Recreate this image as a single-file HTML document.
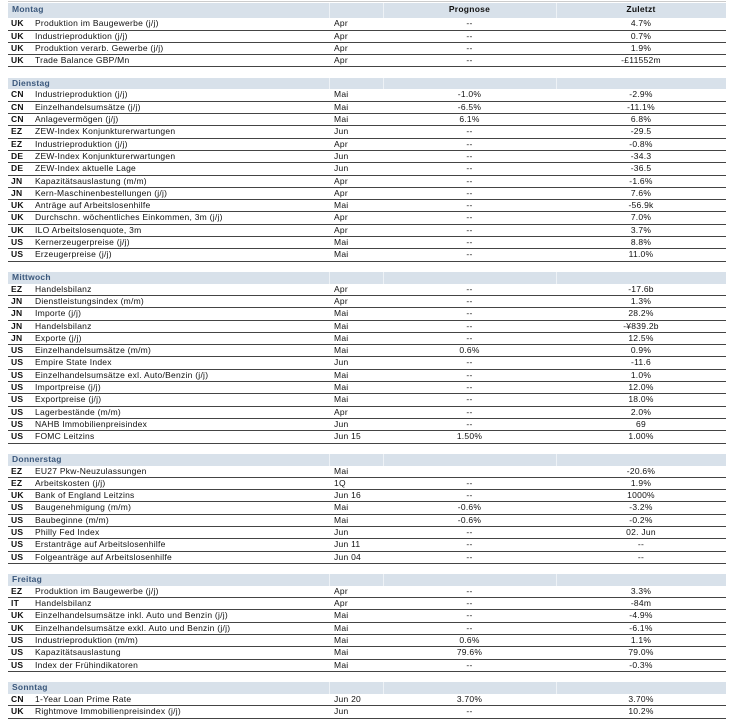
<!DOCTYPE html>
<html><head><meta charset="utf-8"><style>
*{margin:0;padding:0;box-sizing:border-box}
body{width:732px;height:718px;background:#fff;font-family:"Liberation Sans",sans-serif;font-size:8.5px;letter-spacing:0.25px;color:#111;position:relative;overflow:hidden}
#t{position:absolute;left:8px;top:3px;width:718px}
.top{position:absolute;left:8px;top:1px;width:718px;height:1px;background:#ccc}
.h{height:11.5px;background:#d8e1ea;position:relative;color:#3b587c;font-weight:bold;line-height:11.5px}
.h0{height:15.3px;line-height:12px}
.g{height:10.5px}
.r{height:12.3px;border-bottom:1px solid #444;position:relative;line-height:11.5px;white-space:nowrap}
.c{position:absolute;left:3px;font-weight:bold}
.d{position:absolute;left:27px}
.p{position:absolute;left:326px}
.f{position:absolute;left:375px;width:173px;text-align:center}
.z{position:absolute;left:548px;width:170px;text-align:center}
.h span{position:absolute}
.vl{position:absolute;top:0;bottom:0;width:1px;background:#eef2f6}
</style></head><body>
<div class="top"></div>
<div id="t">
<div class="h h0"><span style="left:4px">Montag</span><div class="vl" style="left:321px"></div><div class="vl" style="left:375px"></div><div class="vl" style="left:548px"></div><span class="f" style="text-align:center;color:#111">Prognose</span><span class="z" style="color:#111">Zuletzt</span></div>
<div class="r"><span class="c">UK</span><span class="d">Produktion im Baugewerbe (j/j)</span><span class="p">Apr</span><span class="f">--</span><span class="z">4.7%</span></div>
<div class="r"><span class="c">UK</span><span class="d">Industrieproduktion (j/j)</span><span class="p">Apr</span><span class="f">--</span><span class="z">0.7%</span></div>
<div class="r"><span class="c">UK</span><span class="d">Produktion verarb. Gewerbe (j/j)</span><span class="p">Apr</span><span class="f">--</span><span class="z">1.9%</span></div>
<div class="r"><span class="c">UK</span><span class="d">Trade Balance GBP/Mn</span><span class="p">Apr</span><span class="f">--</span><span class="z">-£11552m</span></div>
<div class="g"></div>
<div class="h"><span style="left:4px">Dienstag</span><div class="vl" style="left:321px"></div><div class="vl" style="left:375px"></div><div class="vl" style="left:548px"></div></div>
<div class="r"><span class="c">CN</span><span class="d">Industrieproduktion (j/j)</span><span class="p">Mai</span><span class="f">-1.0%</span><span class="z">-2.9%</span></div>
<div class="r"><span class="c">CN</span><span class="d">Einzelhandelsumsätze (j/j)</span><span class="p">Mai</span><span class="f">-6.5%</span><span class="z">-11.1%</span></div>
<div class="r"><span class="c">CN</span><span class="d">Anlagevermögen (j/j)</span><span class="p">Mai</span><span class="f">6.1%</span><span class="z">6.8%</span></div>
<div class="r"><span class="c">EZ</span><span class="d">ZEW-Index Konjunkturerwartungen</span><span class="p">Jun</span><span class="f">--</span><span class="z">-29.5</span></div>
<div class="r"><span class="c">EZ</span><span class="d">Industrieproduktion (j/j)</span><span class="p">Apr</span><span class="f">--</span><span class="z">-0.8%</span></div>
<div class="r"><span class="c">DE</span><span class="d">ZEW-Index Konjunkturerwartungen</span><span class="p">Jun</span><span class="f">--</span><span class="z">-34.3</span></div>
<div class="r"><span class="c">DE</span><span class="d">ZEW-Index aktuelle Lage</span><span class="p">Jun</span><span class="f">--</span><span class="z">-36.5</span></div>
<div class="r"><span class="c">JN</span><span class="d">Kapazitätsauslastung (m/m)</span><span class="p">Apr</span><span class="f">--</span><span class="z">-1.6%</span></div>
<div class="r"><span class="c">JN</span><span class="d">Kern-Maschinenbestellungen (j/j)</span><span class="p">Apr</span><span class="f">--</span><span class="z">7.6%</span></div>
<div class="r"><span class="c">UK</span><span class="d">Anträge auf Arbeitslosenhilfe</span><span class="p">Mai</span><span class="f">--</span><span class="z">-56.9k</span></div>
<div class="r"><span class="c">UK</span><span class="d">Durchschn. wöchentliches Einkommen, 3m (j/j)</span><span class="p">Apr</span><span class="f">--</span><span class="z">7.0%</span></div>
<div class="r"><span class="c">UK</span><span class="d">ILO Arbeitslosenquote, 3m</span><span class="p">Apr</span><span class="f">--</span><span class="z">3.7%</span></div>
<div class="r"><span class="c">US</span><span class="d">Kernerzeugerpreise (j/j)</span><span class="p">Mai</span><span class="f">--</span><span class="z">8.8%</span></div>
<div class="r"><span class="c">US</span><span class="d">Erzeugerpreise (j/j)</span><span class="p">Mai</span><span class="f">--</span><span class="z">11.0%</span></div>
<div class="g"></div>
<div class="h"><span style="left:4px">Mittwoch</span><div class="vl" style="left:321px"></div><div class="vl" style="left:375px"></div><div class="vl" style="left:548px"></div></div>
<div class="r"><span class="c">EZ</span><span class="d">Handelsbilanz</span><span class="p">Apr</span><span class="f">--</span><span class="z">-17.6b</span></div>
<div class="r"><span class="c">JN</span><span class="d">Dienstleistungsindex (m/m)</span><span class="p">Apr</span><span class="f">--</span><span class="z">1.3%</span></div>
<div class="r"><span class="c">JN</span><span class="d">Importe (j/j)</span><span class="p">Mai</span><span class="f">--</span><span class="z">28.2%</span></div>
<div class="r"><span class="c">JN</span><span class="d">Handelsbilanz</span><span class="p">Mai</span><span class="f">--</span><span class="z">-¥839.2b</span></div>
<div class="r"><span class="c">JN</span><span class="d">Exporte (j/j)</span><span class="p">Mai</span><span class="f">--</span><span class="z">12.5%</span></div>
<div class="r"><span class="c">US</span><span class="d">Einzelhandelsumsätze (m/m)</span><span class="p">Mai</span><span class="f">0.6%</span><span class="z">0.9%</span></div>
<div class="r"><span class="c">US</span><span class="d">Empire State Index</span><span class="p">Jun</span><span class="f">--</span><span class="z">-11.6</span></div>
<div class="r"><span class="c">US</span><span class="d">Einzelhandelsumsätze exl. Auto/Benzin (j/j)</span><span class="p">Mai</span><span class="f">--</span><span class="z">1.0%</span></div>
<div class="r"><span class="c">US</span><span class="d">Importpreise (j/j)</span><span class="p">Mai</span><span class="f">--</span><span class="z">12.0%</span></div>
<div class="r"><span class="c">US</span><span class="d">Exportpreise (j/j)</span><span class="p">Mai</span><span class="f">--</span><span class="z">18.0%</span></div>
<div class="r"><span class="c">US</span><span class="d">Lagerbestände (m/m)</span><span class="p">Apr</span><span class="f">--</span><span class="z">2.0%</span></div>
<div class="r"><span class="c">US</span><span class="d">NAHB Immobilienpreisindex</span><span class="p">Jun</span><span class="f">--</span><span class="z">69</span></div>
<div class="r"><span class="c">US</span><span class="d">FOMC Leitzins</span><span class="p">Jun 15</span><span class="f">1.50%</span><span class="z">1.00%</span></div>
<div class="g"></div>
<div class="h"><span style="left:4px">Donnerstag</span><div class="vl" style="left:321px"></div><div class="vl" style="left:375px"></div><div class="vl" style="left:548px"></div></div>
<div class="r"><span class="c">EZ</span><span class="d">EU27 Pkw-Neuzulassungen</span><span class="p">Mai</span><span class="f"></span><span class="z">-20.6%</span></div>
<div class="r"><span class="c">EZ</span><span class="d">Arbeitskosten (j/j)</span><span class="p">1Q</span><span class="f">--</span><span class="z">1.9%</span></div>
<div class="r"><span class="c">UK</span><span class="d">Bank of England Leitzins</span><span class="p">Jun 16</span><span class="f">--</span><span class="z">1000%</span></div>
<div class="r"><span class="c">US</span><span class="d">Baugenehmigung (m/m)</span><span class="p">Mai</span><span class="f">-0.6%</span><span class="z">-3.2%</span></div>
<div class="r"><span class="c">US</span><span class="d">Baubeginne (m/m)</span><span class="p">Mai</span><span class="f">-0.6%</span><span class="z">-0.2%</span></div>
<div class="r"><span class="c">US</span><span class="d">Philly Fed Index</span><span class="p">Jun</span><span class="f">--</span><span class="z">02. Jun</span></div>
<div class="r"><span class="c">US</span><span class="d">Erstanträge auf Arbeitslosenhilfe</span><span class="p">Jun 11</span><span class="f">--</span><span class="z">--</span></div>
<div class="r"><span class="c">US</span><span class="d">Folgeanträge auf Arbeitslosenhilfe</span><span class="p">Jun 04</span><span class="f">--</span><span class="z">--</span></div>
<div class="g"></div>
<div class="h"><span style="left:4px">Freitag</span><div class="vl" style="left:321px"></div><div class="vl" style="left:375px"></div><div class="vl" style="left:548px"></div></div>
<div class="r"><span class="c">EZ</span><span class="d">Produktion im Baugewerbe (j/j)</span><span class="p">Apr</span><span class="f">--</span><span class="z">3.3%</span></div>
<div class="r"><span class="c">IT</span><span class="d">Handelsbilanz</span><span class="p">Apr</span><span class="f">--</span><span class="z">-84m</span></div>
<div class="r"><span class="c">UK</span><span class="d">Einzelhandelsumsätze inkl. Auto und Benzin (j/j)</span><span class="p">Mai</span><span class="f">--</span><span class="z">-4.9%</span></div>
<div class="r"><span class="c">UK</span><span class="d">Einzelhandelsumsätze exkl. Auto und Benzin (j/j)</span><span class="p">Mai</span><span class="f">--</span><span class="z">-6.1%</span></div>
<div class="r"><span class="c">US</span><span class="d">Industrieproduktion (m/m)</span><span class="p">Mai</span><span class="f">0.6%</span><span class="z">1.1%</span></div>
<div class="r"><span class="c">US</span><span class="d">Kapazitätsauslastung</span><span class="p">Mai</span><span class="f">79.6%</span><span class="z">79.0%</span></div>
<div class="r"><span class="c">US</span><span class="d">Index der Frühindikatoren</span><span class="p">Mai</span><span class="f">--</span><span class="z">-0.3%</span></div>
<div class="g"></div>
<div class="h"><span style="left:4px">Sonntag</span><div class="vl" style="left:321px"></div><div class="vl" style="left:375px"></div><div class="vl" style="left:548px"></div></div>
<div class="r"><span class="c">CN</span><span class="d">1-Year Loan Prime Rate</span><span class="p">Jun 20</span><span class="f">3.70%</span><span class="z">3.70%</span></div>
<div class="r"><span class="c">UK</span><span class="d">Rightmove Immobilienpreisindex (j/j)</span><span class="p">Jun</span><span class="f">--</span><span class="z">10.2%</span></div>
</div>
</body></html>
